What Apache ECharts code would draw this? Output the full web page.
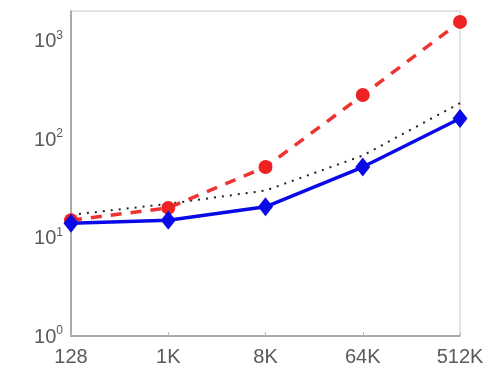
<!DOCTYPE html>
<html>
<head>
<meta charset="utf-8">
<script src="https://cdn.jsdelivr.net/npm/echarts@6/dist/echarts.min.js"></script>
<style>
html,body{margin:0;padding:0;background:#fff;}
#c{width:491px;height:370px;}
</style>
</head>
<body>
<div id="c"></div>
<script>
var categories = ['128', '1K', '8K', '64K', '512K'];
var blueSolid = [14, 15, 20.5, 52, 162];
var redDashed = [15, 20, 52, 280, 1550];
var blackDotted = [17, 22, 30, 68, 232];
var yTickExponents = ['0', '1', '2', '3'];

var chart = echarts.init(document.getElementById('c'));
var font = '"Liberation Sans", Arial, sans-serif';
chart.setOption({
  animation: false,
  grid: {left: 71, right: 31, top: 11, bottom: 34, show: true, borderColor: '#c8c8c8', borderWidth: 1},
  xAxis: {
    type: 'category', data: categories, boundaryGap: false,
    axisLine: {lineStyle: {color: '#999', width: 1.5}},
    axisTick: {inside: true, length: 4, lineStyle: {color: '#bbb'}},
    axisLabel: {color: '#5a5a5a', fontFamily: font, fontSize: 20, margin: 11},
    splitLine: {show: false}
  },
  yAxis: {
    type: 'log', logBase: 10, min: 1, max: 2000,
    axisLine: {show: true, lineStyle: {color: '#999', width: 1.5}},
    axisTick: {inside: true, length: 4, lineStyle: {color: '#bbb'}},
    splitLine: {show: false},
    axisLabel: {
      margin: 8,
      formatter: function (v) {
        var e = Math.round(Math.log10(v));
        if (Math.abs(Math.log10(v) - e) > 1e-6) return '';
        return '{b|10}{s|' + yTickExponents[e] + '}';
      },
      rich: {
        b: {fontSize: 20, fontFamily: font, color: '#5a5a5a', lineHeight: 22, verticalAlign: 'bottom'},
        s: {fontSize: 12, fontFamily: font, color: '#5a5a5a', lineHeight: 22, verticalAlign: 'top', padding: [0, 0, 10, 0]}
      }
    }
  },
  series: [
    {
      name: 'dotted', type: 'line', data: blackDotted, symbol: 'none',
      lineStyle: {color: '#222', width: 2, type: [2, 6]}, z: 2
    },
    {
      name: 'red', type: 'line', data: redDashed, symbol: 'circle', symbolSize: 14,
      itemStyle: {color: '#ee2222'},
      lineStyle: {color: '#ee3333', width: 3.5, type: [11, 9]}, z: 3
    },
    {
      name: 'blue', type: 'line', data: blueSolid, symbol: 'diamond', symbolSize: [15, 19],
      itemStyle: {color: '#0a0ae6'},
      lineStyle: {color: '#0a0ae6', width: 3.5}, z: 4
    }
  ]
});
</script>
</body>
</html>
